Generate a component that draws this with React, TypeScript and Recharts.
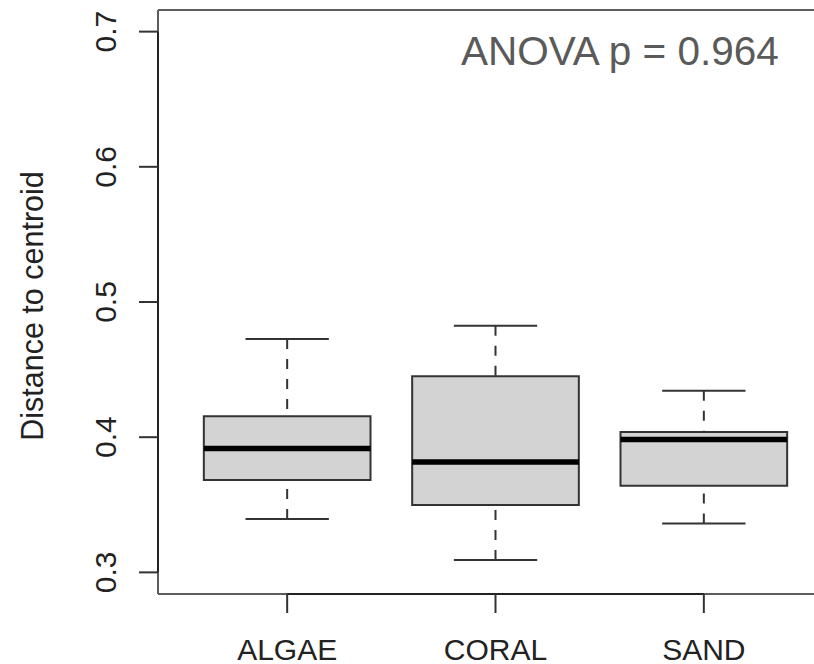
import React from 'react';
import {
  ComposedChart,
  XAxis,
  YAxis,
  Scatter,
  ReferenceArea,
  ReferenceLine,
  Customized,
} from 'recharts';

// ---- data ----
const categories = ['ALGAE', 'CORAL', 'SAND'];
const positions = [1, 2, 3];
const lowerWhisker = [0.3395, 0.3092, 0.3362];
const q1 = [0.3684, 0.3499, 0.3641];
const median = [0.3917, 0.3817, 0.3982];
const q3 = [0.4154, 0.445, 0.4039];
const upperWhisker = [0.4727, 0.4825, 0.4344];
const yTicks = [0.3, 0.4, 0.5, 0.6, 0.7];
const annotation = 'ANOVA p = 0.964';
const yLabel = 'Distance to centroid';

const X_DOMAIN: [number, number] = [0.38, 3.62];
const Y_DOMAIN: [number, number] = [0.284, 0.716];

const boxData = positions.map((pos, i) => ({
  pos,
  name: categories[i],
  lo: lowerWhisker[i],
  q1: q1[i],
  median: median[i],
  q3: q3[i],
  hi: upperWhisker[i],
}));

const FONT = '"Liberation Sans", Arial, Helvetica, sans-serif';
const BOX_HALF = 0.4;
const CAP_HALF = 0.2;
const LINE = '#333';
const FRAME = '#5c5c5c';

const YTick = (props: any) => {
  const { x, y, payload } = props;
  return (
    <text
      x={x}
      y={y}
      transform={`rotate(-90, ${x}, ${y})`}
      textAnchor="middle"
      fontSize={30}
      fontFamily={FONT}
      fill="#222"
    >
      {Number(payload.value).toFixed(1)}
    </text>
  );
};

const XTick = (props: any) => {
  const { x, y, payload } = props;
  const idx = positions.indexOf(payload.value);
  return (
    <text x={x} y={y} dy="0.7em" textAnchor="middle" fontSize={30} fontFamily={FONT} fill="#222">
      {categories[idx]}
    </text>
  );
};

const YLabelContent = (props: any) => {
  const vb = props.viewBox || {};
  const cx = (vb.x ?? 0) + 43;
  const cy = (vb.y ?? 10) + (vb.height ?? 584) / 2 + 4;
  return (
    <text
      x={cx}
      y={cy}
      transform={`rotate(-90, ${cx}, ${cy})`}
      textAnchor="middle"
      fontSize={30.5}
      fontFamily={FONT}
      fill="#222"
    >
      {yLabel}
    </text>
  );
};

const Annotation = () => (
  <text x={461} y={65} fontSize={40.5} fontFamily={FONT} fill="#5a5a5a">
    {annotation}
  </text>
);

export default function App() {
  return (
    <div
      style={{
        position: 'absolute',
        left: 0,
        top: 0,
        width: 814,
        height: 664,
        overflow: 'hidden',
        background: '#fff',
      }}
    >
      <ComposedChart width={833} height={664} margin={{ top: 10, right: 0, bottom: 0, left: 0 }} data={boxData}>
        <XAxis
          type="number"
          dataKey="pos"
          domain={X_DOMAIN}
          allowDataOverflow
          ticks={positions}
          height={70}
          tickSize={19}
          tickMargin={26}
          axisLine={false}
          tickLine={{ stroke: LINE, strokeWidth: 2 }}
          tick={<XTick />}
          interval={0}
        />
        <YAxis
          type="number"
          domain={Y_DOMAIN}
          allowDataOverflow
          ticks={yTicks}
          width={158}
          tickSize={19}
          tickMargin={23}
          axisLine={false}
          tickLine={{ stroke: LINE, strokeWidth: 2 }}
          tick={<YTick />}
          interval={0}
          label={{ content: <YLabelContent /> } as any}
        />

        {/* plot frame: top, left, bottom (right side lies beyond the picture) */}
        <ReferenceLine
          segment={[
            { x: X_DOMAIN[0], y: Y_DOMAIN[1] },
            { x: X_DOMAIN[1], y: Y_DOMAIN[1] },
          ]}
          stroke={FRAME}
          strokeWidth={2}
          ifOverflow="visible"
        />
        <ReferenceLine
          segment={[
            { x: X_DOMAIN[0], y: Y_DOMAIN[0] },
            { x: X_DOMAIN[0], y: Y_DOMAIN[1] },
          ]}
          stroke={FRAME}
          strokeWidth={2}
          ifOverflow="visible"
        />
        <ReferenceLine
          segment={[
            { x: X_DOMAIN[0], y: Y_DOMAIN[0] },
            { x: X_DOMAIN[1], y: Y_DOMAIN[0] },
          ]}
          stroke={FRAME}
          strokeWidth={2}
          ifOverflow="visible"
        />
        {/* axis lines spanning the ticks */}
        <ReferenceLine
          segment={[
            { x: positions[0], y: Y_DOMAIN[0] },
            { x: positions[positions.length - 1], y: Y_DOMAIN[0] },
          ]}
          stroke="#222"
          strokeWidth={2}
          ifOverflow="visible"
        />
        <ReferenceLine
          segment={[
            { x: X_DOMAIN[0], y: yTicks[0] },
            { x: X_DOMAIN[0], y: yTicks[yTicks.length - 1] },
          ]}
          stroke="#222"
          strokeWidth={2}
          ifOverflow="visible"
        />

        {boxData.map((d) => (
          <ReferenceLine
            key={`wu-${d.name}`}
            segment={[
              { x: d.pos, y: d.hi },
              { x: d.pos, y: d.q3 },
            ]}
            stroke={LINE}
            strokeWidth={2}
            strokeDasharray="10 10"
            ifOverflow="visible"
          />
        ))}
        {boxData.map((d) => (
          <ReferenceLine
            key={`wl-${d.name}`}
            segment={[
              { x: d.pos, y: d.lo },
              { x: d.pos, y: d.q1 },
            ]}
            stroke={LINE}
            strokeWidth={2}
            strokeDasharray="10 10"
            ifOverflow="visible"
          />
        ))}
        {boxData.map((d) => (
          <ReferenceLine
            key={`cu-${d.name}`}
            segment={[
              { x: d.pos - CAP_HALF, y: d.hi },
              { x: d.pos + CAP_HALF, y: d.hi },
            ]}
            stroke={LINE}
            strokeWidth={2}
            ifOverflow="visible"
          />
        ))}
        {boxData.map((d) => (
          <ReferenceLine
            key={`cl-${d.name}`}
            segment={[
              { x: d.pos - CAP_HALF, y: d.lo },
              { x: d.pos + CAP_HALF, y: d.lo },
            ]}
            stroke={LINE}
            strokeWidth={2}
            ifOverflow="visible"
          />
        ))}
        {boxData.map((d) => (
          <ReferenceArea
            key={`box-${d.name}`}
            x1={d.pos - BOX_HALF}
            x2={d.pos + BOX_HALF}
            y1={d.q1}
            y2={d.q3}
            fill="#d3d3d3"
            fillOpacity={1}
            stroke={LINE}
            strokeWidth={2}
            ifOverflow="visible"
          />
        ))}
        {boxData.map((d) => (
          <ReferenceLine
            key={`med-${d.name}`}
            segment={[
              { x: d.pos - BOX_HALF, y: d.median },
              { x: d.pos + BOX_HALF, y: d.median },
            ]}
            stroke="#000"
            strokeWidth={5.5}
            ifOverflow="visible"
          />
        ))}

        <Scatter dataKey="median" isAnimationActive={false} shape={() => <g />} legendType="none" />
        <Customized component={Annotation} />
      </ComposedChart>
    </div>
  );
}
